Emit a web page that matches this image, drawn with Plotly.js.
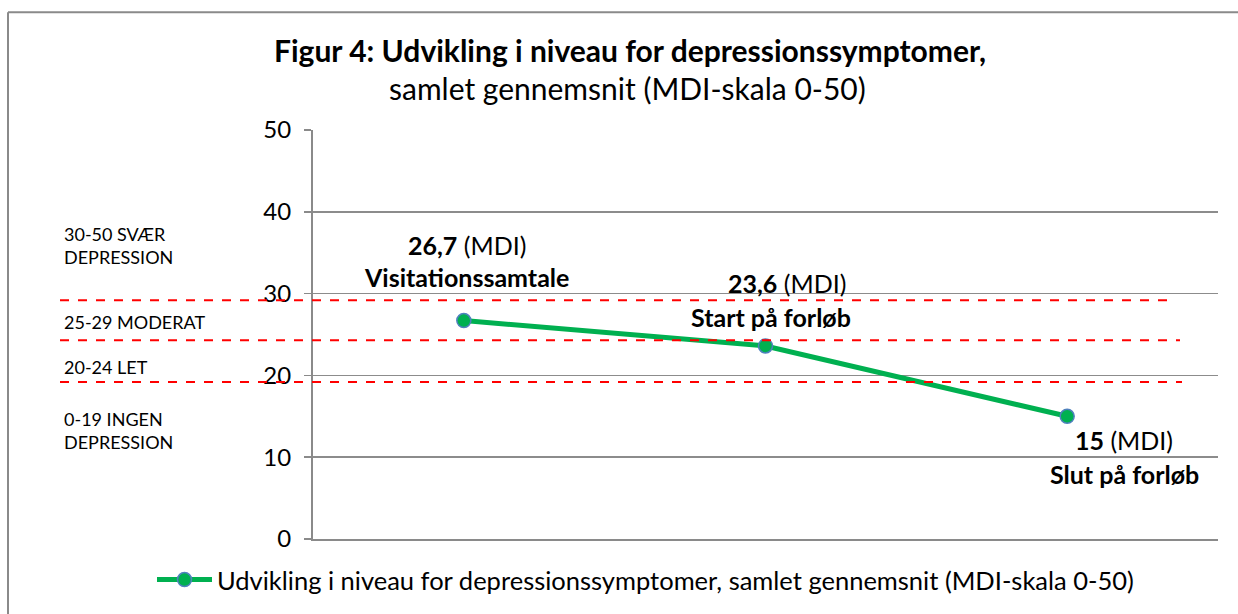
<!DOCTYPE html>
<html>
<head>
<meta charset="utf-8">
<script src="https://cdn.plot.ly/plotly-3.0.1.min.js"></script>
<style>
html,body{margin:0;padding:0;background:#fff;}
#chart{width:1238px;height:614px;}
</style>
</head>
<body>
<div id="chart"></div>
<script>
// ---- data ----
const categories = ["Visitationssamtale", "Start på forløb", "Slut på forløb"];
const values = [26.7, 23.6, 15];
const valueLabels = ["26,7", "23,6", "15"];
const seriesName = "Udvikling i niveau for depressionssymptomer, samlet gennemsnit (MDI-skala 0-50)";
const yTicks = [0, 10, 20, 30, 40, 50];
const thresholds = [29.2, 24.3, 19.2];
const bandLabels = ["30-50 SVÆR<br>DEPRESSION", "25-29 MODERAT", "20-24 LET", "0-19 INGEN<br>DEPRESSION"];

// ---- layout helpers ----
const L = 313, R = 1218, T = 130, B = 540;
const W = R - L, H = B - T;
const px = x => (x - L) / W;          // pixel x -> paper
const py = y => (B - y) / H;          // pixel y -> paper

const FONT = "Lato, 'Open Sans', sans-serif";

const trace = {
  x: categories,
  y: values,
  type: "scatter",
  mode: "lines+markers",
  name: seriesName,
  line: {color: "#00B050", width: 5},
  marker: {size: 14, color: "#00B050", line: {color: "#4F81BD", width: 1.5}},
  hoverinfo: "skip"
};

// annotation offsets (pixels) for value and name labels at each point
const valOff = [[3, -76], [21, -63], [57, 24]];
const nameOff = [[3, -44], [5, -29], [57, 58]];

const annotations = [];
categories.forEach((c, i) => {
  annotations.push({
    x: c, y: values[i], xref: "x", yref: "y",
    text: "<b>" + valueLabels[i] + "</b> (MDI)",
    showarrow: false, xshift: valOff[i][0], yshift: -valOff[i][1],
    font: {family: FONT, size: 25, color: "#000"}
  });
  annotations.push({
    x: c, y: values[i], xref: "x", yref: "y",
    text: "<b>" + c + "</b>",
    showarrow: false, xshift: nameOff[i][0], yshift: -nameOff[i][1],
    font: {family: FONT, size: 25, color: "#000"}
  });
});

const bandY = [246, 322, 368, 431.5];
bandLabels.forEach((t, i) => {
  annotations.push({
    xref: "paper", yref: "paper", x: px(62), y: py(bandY[i]),
    xanchor: "left", yanchor: "middle", align: "left",
    text: t, showarrow: false,
    font: {family: FONT, size: 18, color: "#000"}
  });
});

// subtitle line
annotations.push({
  xref: "paper", yref: "paper", x: px(627), y: py(88),
  xanchor: "center", yanchor: "middle", showarrow: false,
  text: "samlet gennemsnit (MDI-skala 0-50)",
  font: {family: FONT, size: 30, color: "#000"}
});

const lineEnds = [1172, 1180, 1182];
const shapes = thresholds.map((v, i) => ({
  type: "line", xref: "paper", yref: "y",
  x0: px(60), x1: px(lineEnds[i]), y0: v, y1: v,
  line: {color: "#FF0000", width: 2, dash: "dash"},
  layer: "above"
}));
// outer frame (left and top edges)
shapes.push({type: "line", xref: "paper", yref: "paper", x0: px(8), x1: px(1240), y0: py(12), y1: py(12), line: {color: "#8a8a8a", width: 2}});
shapes.push({type: "line", xref: "paper", yref: "paper", x0: px(8), x1: px(8), y0: py(12), y1: py(616), line: {color: "#8a8a8a", width: 2}});

const layout = {
  width: 1238, height: 614,
  margin: {l: L, r: 1238 - R, t: T, b: 614 - B},
  paper_bgcolor: "#fff", plot_bgcolor: "#fff",
  font: {family: FONT, color: "#000"},
  title: {
    text: "<b>Figur 4: Udvikling i niveau for depressionssymptomer,</b>",
    x: 630 / 1238, xref: "container", xanchor: "center",
    y: 1 - 51 / 614, yref: "container", yanchor: "middle",
    font: {family: FONT, size: 30, color: "#000"}
  },
  xaxis: {
    type: "category", showticklabels: false, showgrid: false,
    showline: true, linecolor: "#8a8a8a", linewidth: 2,
    zeroline: false, range: [-0.5, 2.5], fixedrange: true
  },
  yaxis: {
    range: [0, 50], tickvals: yTicks, ticktext: yTicks.map(String),
    showgrid: true, gridcolor: "#8c8c8c", gridwidth: 1.5,
    showline: true, linecolor: "#8a8a8a", linewidth: 2,
    ticks: "outside", ticklen: 7, tickcolor: "#8a8a8a", tickwidth: 1.5,
    zeroline: false, tickfont: {family: FONT, size: 24, color: "#000"},
    ticklabelstandoff: 8, fixedrange: true
  },
  showlegend: true,
  legend: {
    orientation: "h", x: px(152), xanchor: "left", y: py(580), yanchor: "middle",
    itemwidth: 55,
    font: {family: FONT, size: 25.5, color: "#000"}, bgcolor: "rgba(0,0,0,0)"
  },
  annotations: annotations,
  shapes: shapes
};

Plotly.newPlot("chart", [trace], layout, {displayModeBar: false, staticPlot: true});
</script>
</body>
</html>
